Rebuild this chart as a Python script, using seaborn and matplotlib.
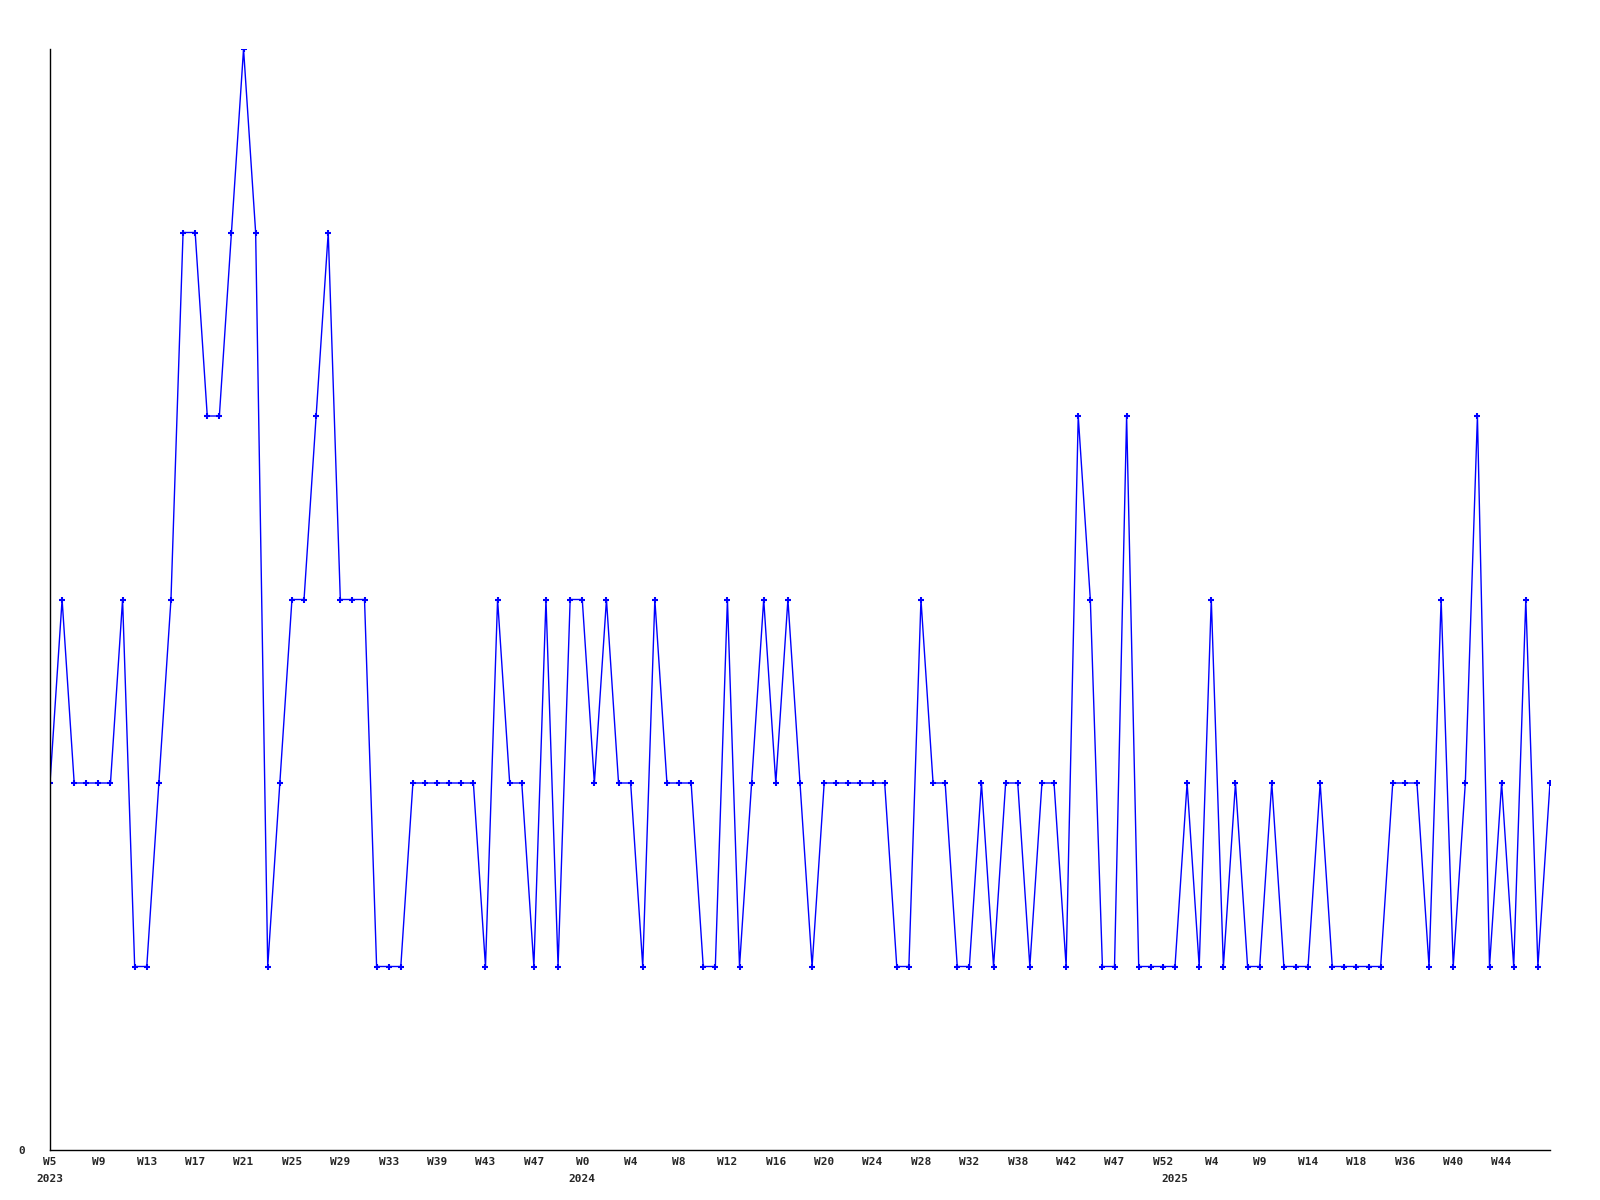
import pandas as pd
import matplotlib
matplotlib.use("Agg")
import matplotlib.pyplot as plt
import seaborn as sns

# weekly counts, one value per plotted week (gaps in the calendar are skipped)
counts = [
    2, 3, 2, 2, 2, 2, 3, 1, 1, 2,
    3, 5, 5, 4, 4, 5, 6, 5, 1, 2,
    3, 3, 4, 5, 3, 3, 3, 1, 1, 1,
    2, 2, 2, 2, 2, 2, 1, 3, 2, 2,
    1, 3, 1, 3, 3, 2, 3, 2, 2, 1,
    3, 2, 2, 2, 1, 1, 3, 1, 2, 3,
    2, 3, 2, 1, 2, 2, 2, 2, 2, 2,
    1, 1, 3, 2, 2, 1, 1, 2, 1, 2,
    2, 1, 2, 2, 1, 4, 3, 1, 1, 4,
    1, 1, 1, 1, 2, 1, 3, 1, 2, 1,
    1, 2, 1, 1, 1, 2, 1, 1, 1, 1,
    1, 2, 2, 2, 1, 3, 1, 2, 4, 1,
    2, 1, 3, 1, 2,
]

# every 4th plotted week gets a label
week_labels = [
    "W5", "W9", "W13", "W17", "W21", "W25", "W29", "W33", "W39", "W43", "W47",
    "W0", "W4", "W8", "W12", "W16", "W20", "W24", "W28", "W32", "W38", "W42",
    "W47", "W52", "W4", "W9", "W14", "W18", "W36", "W40", "W44",
]

# first plotted week of each year
year_labels = ["2023", "2024", "2025"]
year_start = [0, 44, 93]

df = pd.DataFrame({"week": range(len(counts)), "count": counts})

sns.set_style("white")
plt.rcParams["font.family"] = ["DejaVu Sans Mono", "DejaVu Sans"]
plt.rcParams["font.weight"] = "bold"

fig = plt.figure(figsize=(16, 12), dpi=100)
ax = fig.add_axes([50 / 1600, 50 / 1200, 1500 / 1600, 1101 / 1200])

sns.lineplot(
    data=df,
    x="week",
    y="count",
    color="#0000ff",
    linewidth=1.0,
    marker="+",
    markersize=4,
    markeredgewidth=1.5,
    markeredgecolor="#0000ff",
    ax=ax,
)

ax.set_xlim(0, len(counts) - 1)
ax.set_ylim(0, 6)
ax.set_xlabel("")
ax.set_ylabel("")

# years sit on a second row, some on the same weeks as the W labels
ax.xaxis.remove_overlapping_locs = False
ax.set_xticks(range(0, len(counts), 4)[: len(week_labels)], week_labels)
ax.set_xticks(year_start, year_labels, minor=True)
ax.set_yticks([0], ["0"])

ax.tick_params(axis="x", which="major", length=0, pad=5, labelsize=8)
ax.tick_params(axis="x", which="minor", length=0, pad=17, labelsize=8)
ax.tick_params(axis="y", length=0, pad=18, labelsize=8)

for side in ["top", "right"]:
    ax.spines[side].set_visible(False)
for side in ["left", "bottom"]:
    ax.spines[side].set_color("black")
    ax.spines[side].set_linewidth(1.0)

ax.grid(False)

fig.savefig("out.png", dpi=100)
